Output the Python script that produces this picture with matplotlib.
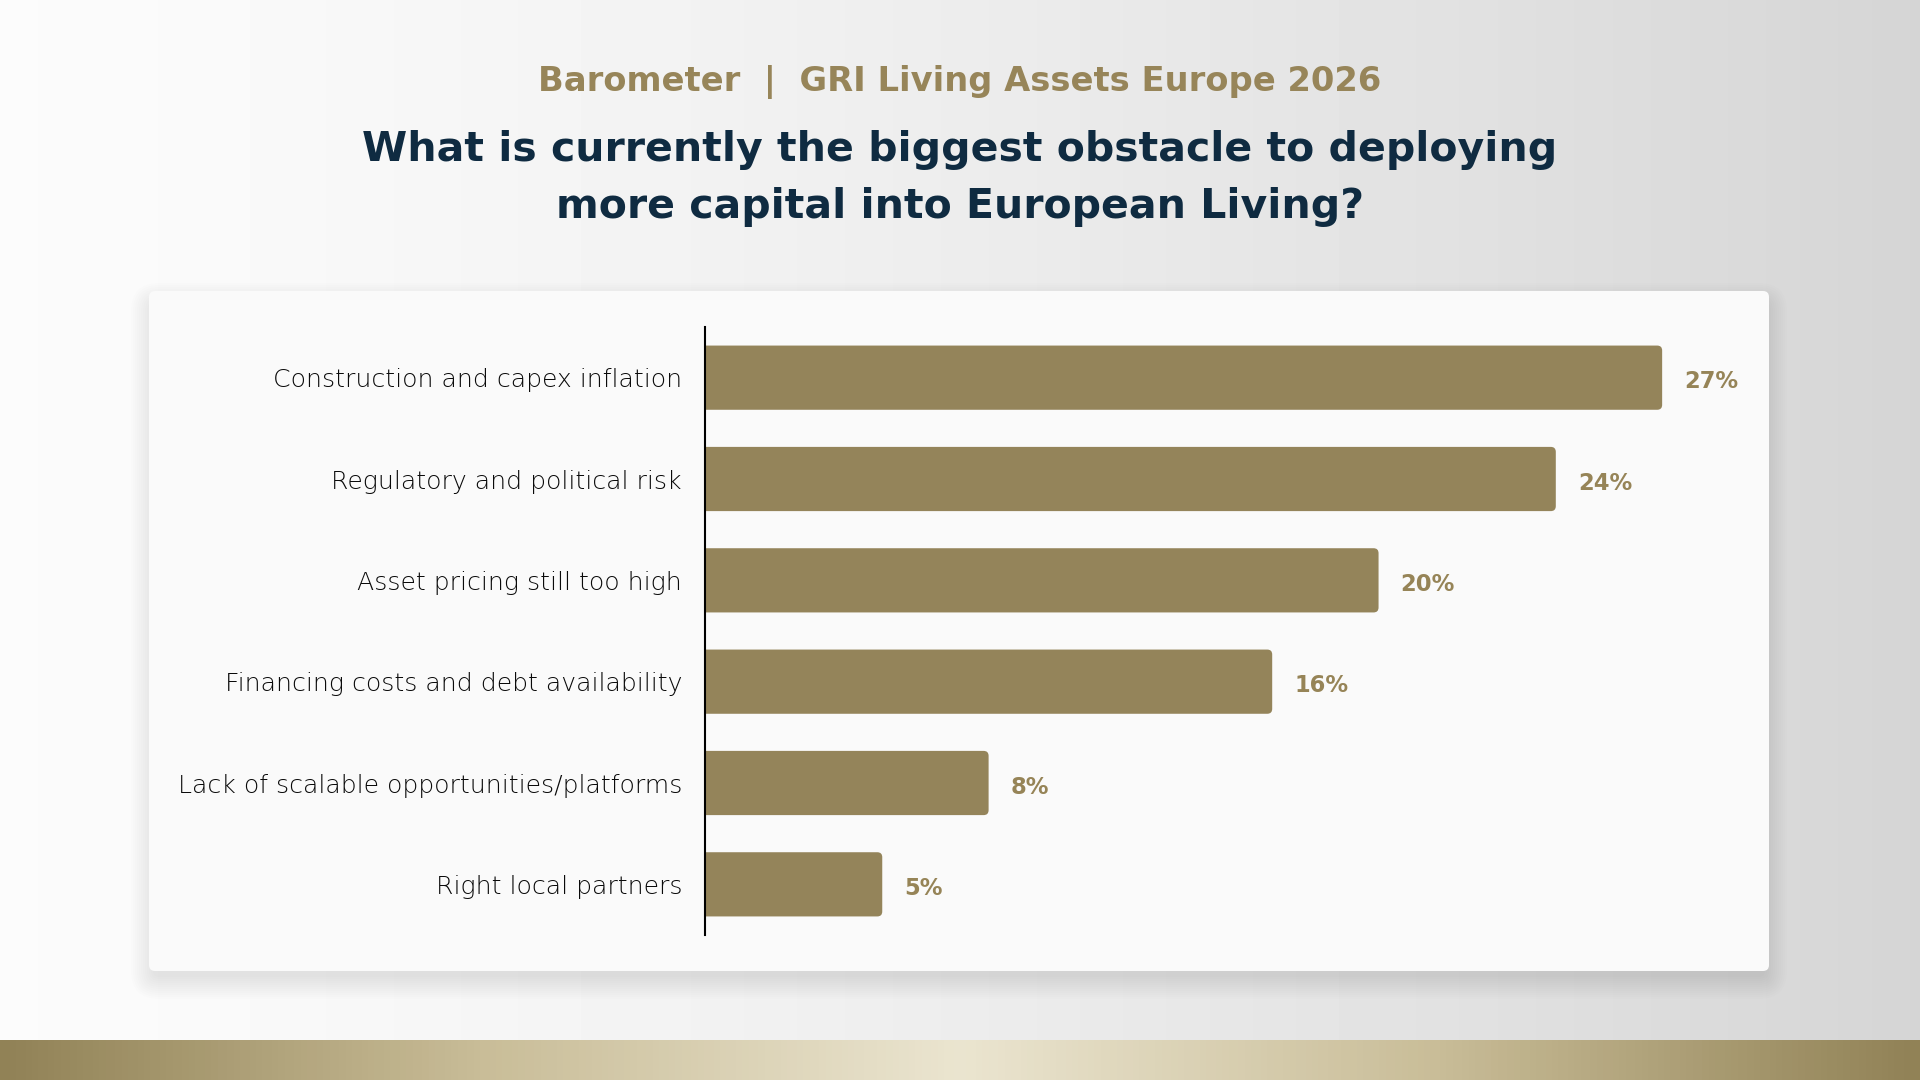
import numpy as np
import matplotlib
matplotlib.use("Agg")
import matplotlib.pyplot as plt
from matplotlib.patches import FancyBboxPatch
from matplotlib.colors import LinearSegmentedColormap

# data
categories = ['Construction and capex inflation',
              'Regulatory and political risk',
              'Asset pricing still too high',
              'Financing costs and debt availability',
              'Lack of scalable opportunities/platforms',
              'Right local partners']
values = [27, 24, 19, 16, 8, 5]          # bar lengths as drawn
value_labels = ['27%', '24%', '20%', '16%', '8%', '5%']

subtitle = 'Barometer  |  GRI Living Assets Europe 2026'
title_lines = ['What is currently the biggest obstacle to deploying',
               'more capital into European Living?']

GOLD = '#94845a'
GOLD_TXT = '#968457'
NAVY = '#0f2b41'
GREY = '#0a0a0a'

W, H = 1920, 1080
plt.rcParams['font.family'] = ['DejaVu Sans']

fig = plt.figure(figsize=(19.2, 10.8), dpi=100)

def fx(x):
    return x / W

def fy(y):
    return 1 - y / H

# background: light grey horizontal gradient
bg = fig.add_axes([0, 0, 1, 1])
bg.set_axis_off()
bg.set_xlim(0, W)
bg.set_ylim(H, 0)
xs = np.linspace(0, 1, 400)
grad = 0.985 - 0.15 * xs ** 1.4
bg.imshow(np.tile(grad, (10, 1)), extent=[0, W, H, 0], cmap='gray',
          vmin=0, vmax=1, aspect='auto', zorder=0)

# gold band at the bottom
band_cmap = LinearSegmentedColormap.from_list(
    'band', ['#918256', '#c9bd98', '#ebe5d0', '#c9bd98', '#918256'])
bg.imshow(np.tile(np.linspace(0, 1, 600), (4, 1)), extent=[0, W, 1080, 1040],
          cmap=band_cmap, aspect='auto', zorder=1)

# card with soft shadow
cx0, cy0, cx1, cy1 = 149, 291, 1769, 971
for k in range(12):
    grow = k * 2.0
    bg.add_patch(FancyBboxPatch((cx0 - grow + 4, cy0 - grow + 14),
                                cx1 - cx0 + 2 * grow - 8, cy1 - cy0 + 2 * grow - 8,
                                boxstyle='round,pad=0,rounding_size=%d' % (6 + grow),
                                fc='black', ec='none', alpha=0.009, zorder=2))
bg.add_patch(FancyBboxPatch((cx0, cy0), cx1 - cx0, cy1 - cy0,
                            boxstyle='round,pad=0,rounding_size=6',
                            fc='#fafafa', ec='none', zorder=3))

# titles
fig.text(fx(960), fy(82), subtitle, ha='center', va='center',
         fontsize=24.3, fontweight='bold', color='#978559')
fig.text(fx(960), fy(150), title_lines[0], ha='center', va='center',
         fontsize=29.5, fontweight='bold', color=NAVY)
fig.text(fx(960), fy(207), title_lines[1], ha='center', va='center',
         fontsize=29.5, fontweight='bold', color=NAVY)

# bar chart
ax_left, ax_top, ax_bottom, ax_right = 705, 327, 935, 1705
ax = fig.add_axes([fx(ax_left), fy(ax_bottom), fx(ax_right - ax_left),
                   (ax_bottom - ax_top) / H])
ax.patch.set_alpha(0)
px_per_unit = 35.45
ax.set_xlim(0, (ax_right - ax_left) / px_per_unit)
ax.set_ylim(len(categories) - 0.5, -0.5)

bar_h = 64 / 101
ypos = np.arange(len(categories))
for y, v, lab in zip(ypos, values, value_labels):
    ax.add_patch(FancyBboxPatch((-0.5, y - bar_h / 2), v + 0.5, bar_h,
                                boxstyle='round,pad=0,rounding_size=0.14',
                                mutation_aspect=35.45 / 101,
                                fc=GOLD, ec='none', clip_on=True))
    ax.text(v + 22 / px_per_unit, y + 0.04, lab, ha='left', va='center',
            fontsize=16.3, fontweight='bold', color=GOLD_TXT, clip_on=False)

ax.set_yticks(ypos)
ax.set_yticklabels(categories, fontsize=18.1, color=GREY, fontweight='light')
ax.tick_params(axis='y', length=0, pad=16.5)
ax.set_xticks([])
for s in ['top', 'right', 'bottom']:
    ax.spines[s].set_visible(False)
ax.spines['left'].set_linewidth(1.5)
ax.spines['left'].set_color('black')

fig.savefig('out.png', dpi=100)
